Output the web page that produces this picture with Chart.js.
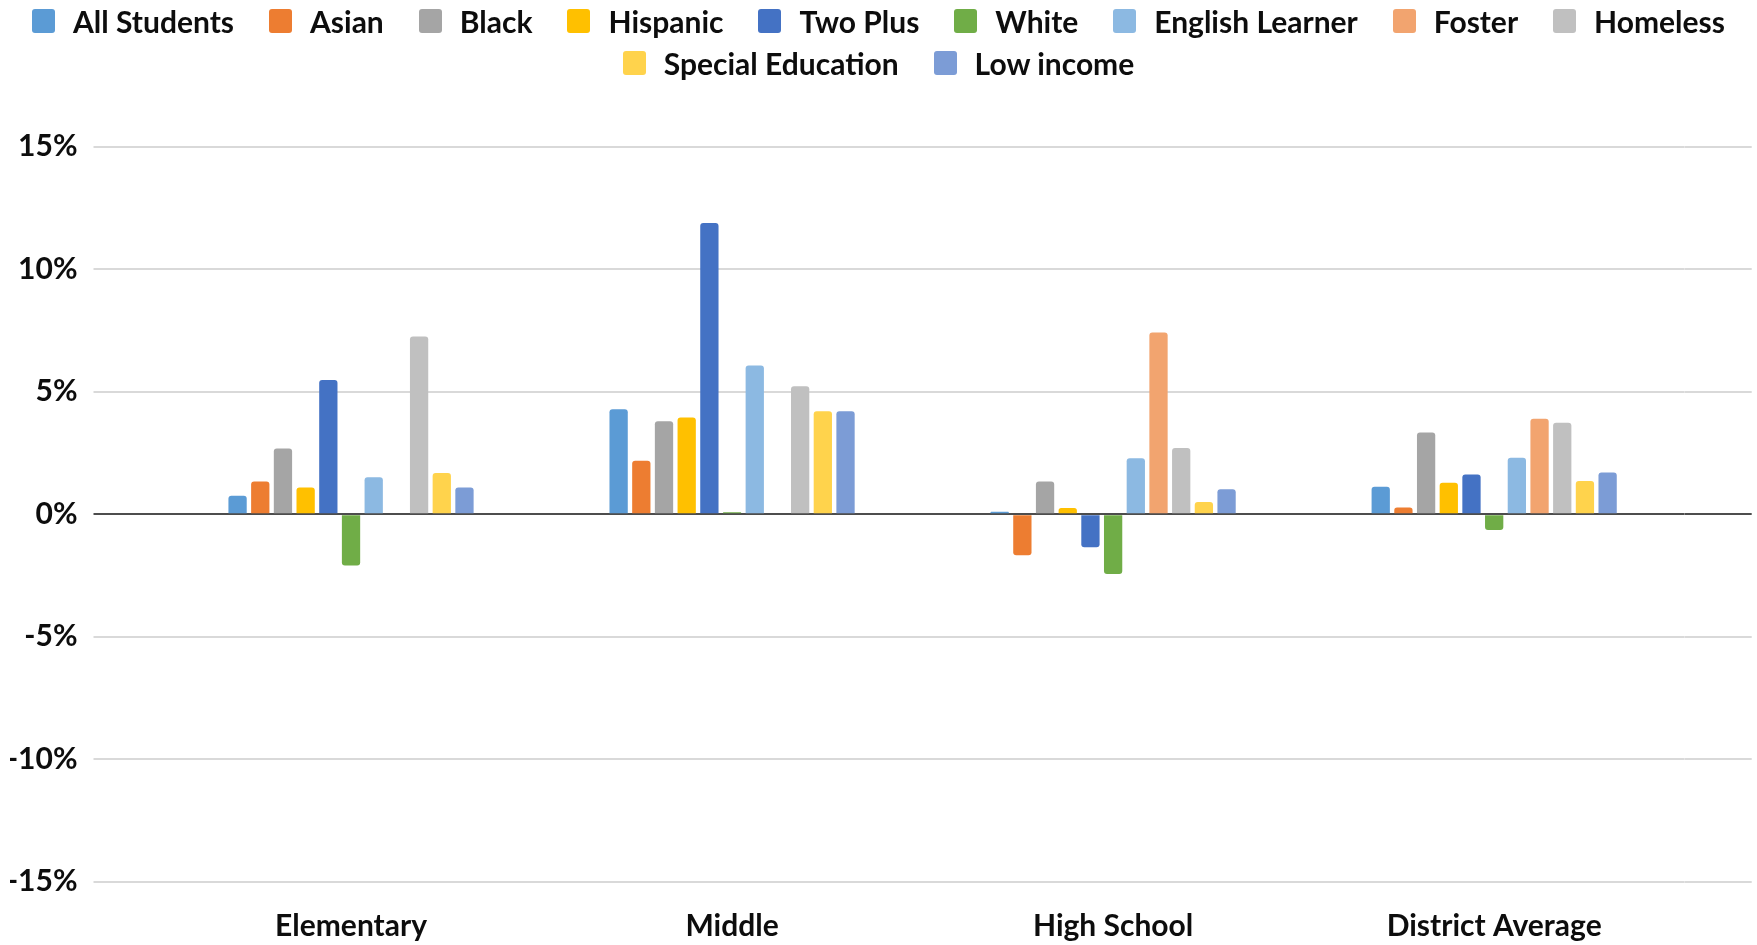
<!DOCTYPE html>
<html>
<head>
<meta charset="utf-8">
<script src="https://cdn.jsdelivr.net/npm/chart.js@4/dist/chart.umd.min.js"></script>
<style>
  body { margin: 0; background: #fff; }
  #wrap { position: relative; width: 1757px; height: 945px; }
  #legend { position: absolute; left: 0; top: 0; width: 1757px; font-family: Lato, sans-serif; font-weight: bold; font-size: 30px; color: #0d0d0d; }
  .row { display: flex; justify-content: center; align-items: center; height: 42px; }
  .item { display: flex; align-items: center; margin: 0 17.5px; white-space: nowrap; }
  .box { display: inline-block; width: 23px; height: 24px; border-radius: 3px; margin-right: 18px; }
</style>
</head>
<body>
<div id="wrap">
  <canvas id="myChart" width="1757" height="945"></canvas>
  <div id="legend"></div>
</div>
<script>
// categories
var categorias = ['Elementary', 'Middle', 'High School', 'District Average'];

// series values (%), one per student group
var allStudents    = [0.75, 4.28, 0.10, 1.12];
var asian          = [1.33, 2.18, -1.68, 0.27];
var black          = [2.68, 3.79, 1.33, 3.33];
var hispanic       = [1.09, 3.95, 0.25, 1.28];
var twoPlus        = [5.48, 11.89, -1.35, 1.62];
var white          = [-2.09, 0.08, -2.44, -0.64];
var englishLearner = [1.51, 6.07, 2.28, 2.30];
var foster         = [null, null, 7.42, 3.90];
var homeless       = [7.25, 5.22, 2.70, 3.73];
var specialEd      = [1.68, 4.20, 0.50, 1.36];
var lowIncome      = [1.09, 4.20, 1.02, 1.70];

var nomes = ['All Students', 'Asian', 'Black', 'Hispanic', 'Two Plus', 'White',
             'English Learner', 'Foster', 'Homeless', 'Special Education', 'Low income'];
var valores = [allStudents, asian, black, hispanic, twoPlus, white,
               englishLearner, foster, homeless, specialEd, lowIncome];
var cores = ['#5B9BD5', '#ED7D31', '#A5A5A5', '#FFC000', '#4472C4', '#70AD47',
             '#8CB9E2', '#F2A46F', '#C0C0C0', '#FFD34C', '#7C9CD6'];

// y axis ticks
var yMin = -15, yMax = 15, yStep = 5;

var fonte = { family: 'Lato', weight: 'bold', size: 30 };
var corTexto = '#0d0d0d';
var corGrade = '#D9D9D9';
var corZero = '#4d4d4d';

function corLinha(ctx) {
    return ctx.tick && ctx.tick.value === 0 ? corZero : corGrade;
}

var datasets = nomes.map(function(nome, i) {
    return {
        label: nome,
        data: valores[i],
        backgroundColor: cores[i],
        borderRadius: 3,
        borderSkipped: 'start',
        categoryPercentage: 0.655,
        barPercentage: 0.806
    };
});

var ctx = document.getElementById('myChart').getContext('2d');
var chart = new Chart(ctx, {
    type: 'bar',
    data: { labels: categorias, datasets: datasets },
    options: {
        responsive: false,
        animation: false,
        layout: { padding: { left: 10, right: 5.3, top: 146.7, bottom: 0 } },
        plugins: { legend: { display: false }, tooltip: { enabled: false } },
        scales: {
            x: {
                grid: { display: false, drawTicks: false },
                border: { display: false },
                ticks: { font: fonte, color: corTexto, padding: 27 },
                afterFit: function(s) { s.height = 63.3; }
            },
            y: {
                min: yMin, max: yMax,
                ticks: { stepSize: yStep, font: fonte, color: corTexto, padding: 16,
                         callback: function(v) { return v + '%'; } },
                grid: { color: corLinha, lineWidth: 2, tickLength: 67 },
                border: { display: false },
                afterFit: function(s) { s.width = 150.5; }
            },
            y2: {
                position: 'right',
                min: yMin, max: yMax,
                ticks: { stepSize: yStep, display: false },
                grid: { color: corLinha, lineWidth: 2, tickLength: 67, drawOnChartArea: false },
                border: { display: false },
                afterFit: function(s) { s.width = 67; }
            }
        }
    }
});

// legenda em html, duas linhas como no original
var legenda = document.getElementById('legend');
var linhas = [nomes.slice(0, 9), nomes.slice(9)];
var k = 0;
linhas.forEach(function(linha) {
    var div = document.createElement('div');
    div.className = 'row';
    linha.forEach(function(nome) {
        var item = document.createElement('span');
        item.className = 'item';
        var box = document.createElement('span');
        box.className = 'box';
        box.style.background = cores[k];
        item.appendChild(box);
        item.appendChild(document.createTextNode(nome));
        div.appendChild(item);
        k++;
    });
    legenda.appendChild(div);
});
</script>
</body>
</html>
